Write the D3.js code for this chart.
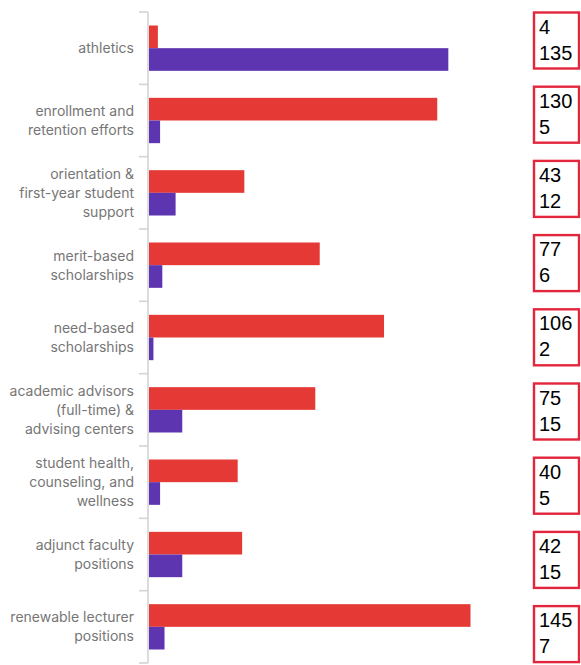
<!DOCTYPE html>
<html>
<head>
<meta charset="utf-8">
<script src="https://cdn.jsdelivr.net/npm/d3@7"></script>
<style>
  html, body { margin: 0; padding: 0; background: #fff; }
  svg { display: block; }
</style>
</head>
<body>
<svg id="chart" width="581" height="665"></svg>
<script>
// Budget categories and the two series drawn for each
const categories = [
  "athletics",
  "enrollment and retention efforts",
  "orientation & first-year student support",
  "merit-based scholarships",
  "need-based scholarships",
  "academic advisors (full-time) & advising centers",
  "student health, counseling, and wellness",
  "adjunct faculty positions",
  "renewable lecturer positions"
];
const seriesNames = ["first", "second"];
const firstValues = [4, 130, 43, 77, 106, 75, 40, 42, 145];
const secondValues = [135, 5, 12, 6, 2, 15, 5, 15, 7];
const seriesColors = ["#e53935", "#5e35b1"];

const width = 581, height = 665;
const svg = d3.select("#chart");

const rows = categories.map((c, i) => ({
  category: c,
  values: [firstValues[i], secondValues[i]]
}));

const y0 = d3.scaleBand().domain(categories).range([12, 663]).padding(0);
const y1 = d3.scaleBand().domain(seriesNames)
  .range([13.5, y0.bandwidth() - 13.5]).padding(0);
const x = d3.scaleLinear().domain([0, 145]).range([149, 470.5]);

// Bars
const groups = svg.append("g").selectAll("g")
  .data(rows).join("g")
  .attr("transform", d => `translate(0,${y0(d.category)})`);

groups.selectAll("rect")
  .data(d => d.values.map((v, k) => ({ v, k })))
  .join("rect")
  .attr("x", x(0))
  .attr("y", d => y1(seriesNames[d.k]))
  .attr("width", d => x(d.v) - x(0))
  .attr("height", y1.bandwidth())
  .attr("fill", d => seriesColors[d.k]);

// Category axis: vertical line with ticks at band edges
const axisX = 148;
const axisG = svg.append("g");
axisG.append("line")
  .attr("x1", axisX).attr("x2", axisX)
  .attr("y1", y0.range()[0]).attr("y2", y0.range()[1])
  .attr("stroke", "#d4d4d4").attr("stroke-width", 1.6);
const edges = categories.map(c => y0(c)).concat([y0.range()[1]]);
axisG.selectAll("line.tick").data(edges).join("line")
  .attr("class", "tick")
  .attr("x1", axisX - 9).attr("x2", axisX)
  .attr("y1", d => d).attr("y2", d => d)
  .attr("stroke", "#d4d4d4").attr("stroke-width", 1.6);

// Category labels, wrapped to a max width and centred on each band
const labelG = svg.append("g")
  .attr("font-family", "Inter, sans-serif")
  .attr("font-size", 14)
  .attr("fill", "#767676")
  .attr("text-anchor", "end");

const maxLabelWidth = 130;
const lineHeight = 19;
categories.forEach(c => {
  const t = labelG.append("text").attr("x", 134);
  const words = c.split(" ");
  const lines = [];
  let line = [];
  const probe = t.append("tspan");
  words.forEach(w => {
    const trial = line.concat([w]).join(" ");
    probe.text(trial);
    if (probe.node().getComputedTextLength() > maxLabelWidth && line.length) {
      lines.push(line.join(" "));
      line = [w];
    } else {
      line.push(w);
    }
  });
  if (line.length) lines.push(line.join(" "));
  probe.remove();
  const cy = y0(c) + y0.bandwidth() / 2;
  const firstY = cy - (lines.length - 1) * lineHeight / 2;
  lines.forEach((l, i) => {
    t.append("tspan")
      .attr("x", 134)
      .attr("y", firstY + i * lineHeight)
      .attr("dy", "0.35em")
      .text(l);
  });
});

// Value boxes on the right, one per category
const yNote = d3.scaleBand().domain(categories).range([3.4, 671.2]).padding(0);
const noteG = svg.append("g");
rows.forEach(r => {
  const cy = yNote(r.category) + yNote.bandwidth() / 2;
  const g = noteG.append("g").attr("transform", `translate(534,${cy - 28})`);
  g.append("rect")
    .attr("x", 0).attr("y", 0)
    .attr("width", 45).attr("height", 56)
    .attr("fill", "#fff")
    .attr("stroke", "#e3263b")
    .attr("stroke-width", 2.4);
  r.values.forEach((v, k) => {
    g.append("text")
      .attr("x", 5)
      .attr("y", 21 + k * 26)
      .attr("font-family", "Arial, 'Liberation Sans', sans-serif")
      .attr("font-size", 20)
      .attr("fill", "#000")
      .text(v);
  });
});
</script>
</body>
</html>
